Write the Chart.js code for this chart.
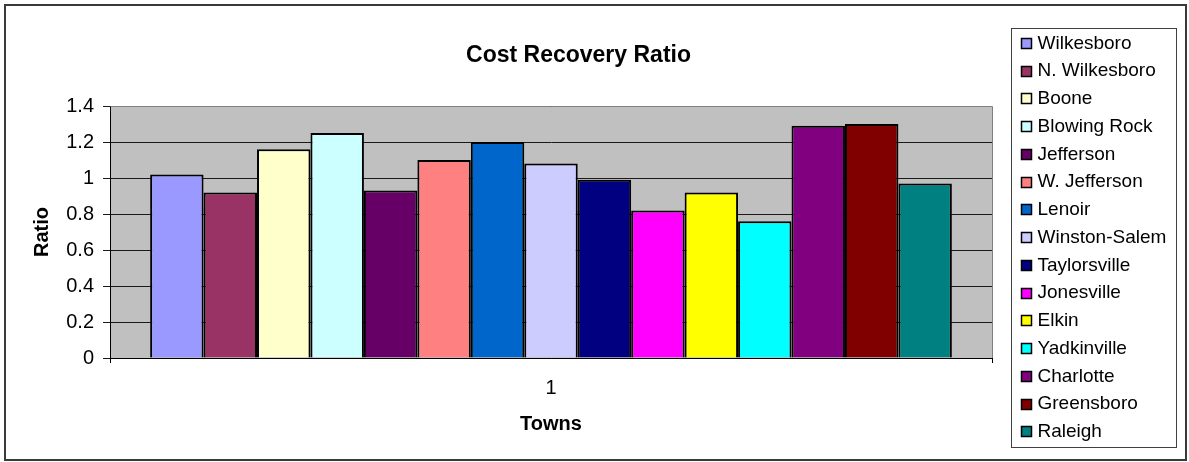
<!DOCTYPE html>
<html>
<head>
<meta charset="utf-8">
<script src="https://cdn.jsdelivr.net/npm/chart.js@4"></script>
<style>
  html, body { margin: 0; padding: 0; background: #fff; }
  canvas { display: block; }
</style>
</head>
<body>
<canvas id="c" width="1189" height="462"></canvas>
<script>
const chartTitle = 'Cost Recovery Ratio';
const xAxisTitle = 'Towns';
const yAxisTitle = 'Ratio';
const categories = ['1'];
const towns = ['Wilkesboro', 'N. Wilkesboro', 'Boone', 'Blowing Rock', 'Jefferson', 'W. Jefferson', 'Lenoir', 'Winston-Salem', 'Taylorsville', 'Jonesville', 'Elkin', 'Yadkinville', 'Charlotte', 'Greensboro', 'Raleigh'];
const ratios = [1.02, 0.92, 1.16, 1.25, 0.93, 1.10, 1.20, 1.08, 0.99, 0.82, 0.92, 0.76, 1.29, 1.30, 0.97];
const colors = ['#9999FF', '#993366', '#FFFFCC', '#CCFFFF', '#660066', '#FF8080', '#0066CC', '#CCCCFF', '#000080', '#FF00FF', '#FFFF00', '#00FFFF', '#800080', '#800000', '#008080'];
const yMin = 0, yMax = 1.4, yStep = 0.2;

const FONT = '"Liberation Sans", Arial, sans-serif';

const datasets = towns.map((t, i) => ({
  label: t,
  data: [ratios[i]],
  backgroundColor: colors[i],
  borderColor: '#000000',
  borderWidth: 2
}));

const decorPlugin = {
  id: 'decor',
  beforeDraw(chart) {
    const {ctx, chartArea: a} = chart;
    ctx.save();
    ctx.fillStyle = '#FFFFFF';
    ctx.fillRect(0, 0, chart.width, chart.height);
    ctx.fillStyle = '#C0C0C0';
    ctx.fillRect(a.left, a.top, a.right - a.left, a.bottom - a.top);
    ctx.restore();
  },
  afterDraw(chart) {
    const {ctx, chartArea: a} = chart;
    ctx.save();
    // plot area top/right border
    ctx.strokeStyle = '#808080';
    ctx.lineWidth = 1;
    ctx.beginPath();
    ctx.moveTo(a.left + 0.5, Math.round(a.top) + 0.5);
    ctx.lineTo(Math.round(a.right) + 0.5, Math.round(a.top) + 0.5);
    ctx.lineTo(Math.round(a.right) + 0.5, a.bottom);
    ctx.stroke();
    // outer border
    ctx.strokeStyle = '#3a3a3a';
    ctx.lineWidth = 2;
    ctx.strokeRect(5, 5, 1181, 455);
    // title
    ctx.fillStyle = '#000';
    ctx.font = 'bold 23px ' + FONT;
    ctx.textAlign = 'center';
    ctx.textBaseline = 'alphabetic';
    ctx.fillText(chartTitle, 578.5, 62);
    // legend
    ctx.strokeStyle = '#404040';
    ctx.lineWidth = 1;
    ctx.strokeRect(1011.5, 28.5, 165, 419);
    ctx.font = '19px ' + FONT;
    ctx.textAlign = 'left';
    ctx.textBaseline = 'middle';
    towns.forEach((t, i) => {
      const cy = 43.3 + i * 27.75;
      const y0 = Math.round(cy - 5.5);
      ctx.fillStyle = colors[i];
      ctx.fillRect(1021, y0, 11, 11);
      ctx.strokeStyle = '#000';
      ctx.lineWidth = 1.5;
      ctx.strokeRect(1021.5, y0 + 0.5, 10, 10);
      ctx.fillStyle = '#000';
      ctx.fillText(t, 1037.5, cy);
    });
    ctx.restore();
  }
};

new Chart(document.getElementById('c'), {
  type: 'bar',
  data: { labels: categories, datasets },
  plugins: [decorPlugin],
  options: {
    responsive: false,
    animation: false,
    events: [],
    layout: { padding: { left: 0, top: 106, right: 197, bottom: 0 } },
    datasets: { bar: { categoryPercentage: 0.909, barPercentage: 1.0 } },
    plugins: {
      legend: { display: false },
      title: { display: false },
      tooltip: { enabled: false }
    },
    scales: {
      x: {
        afterFit(scale) { scale.height = 104; },
        grid: { display: true, drawOnChartArea: false, drawTicks: true, tickLength: 5, color: '#000' },
        border: { display: true, color: '#000', width: 1 },
        ticks: { color: '#000', font: { family: FONT, size: 20 }, padding: 13 },
        title: { display: true, text: xAxisTitle, color: '#000', font: { family: FONT, size: 20, weight: 'bold' }, padding: { top: 0, bottom: 26 } }
      },
      y: {
        min: yMin, max: yMax,
        afterFit(scale) { scale.width = 110; },
        grid: { color: '#1a1a1a', lineWidth: 1, tickLength: 7, drawTicks: true },
        border: { display: true, color: '#000', width: 1 },
        ticks: {
          stepSize: yStep, color: '#000', font: { family: FONT, size: 20 }, padding: 9,
          callback: (v) => String(Math.round(v * 10) / 10)
        },
        title: { display: true, text: yAxisTitle, color: '#000', font: { family: FONT, size: 20, weight: 'bold' }, padding: { top: 30.5, bottom: 0 } }
      }
    }
  }
});
</script>
</body>
</html>
